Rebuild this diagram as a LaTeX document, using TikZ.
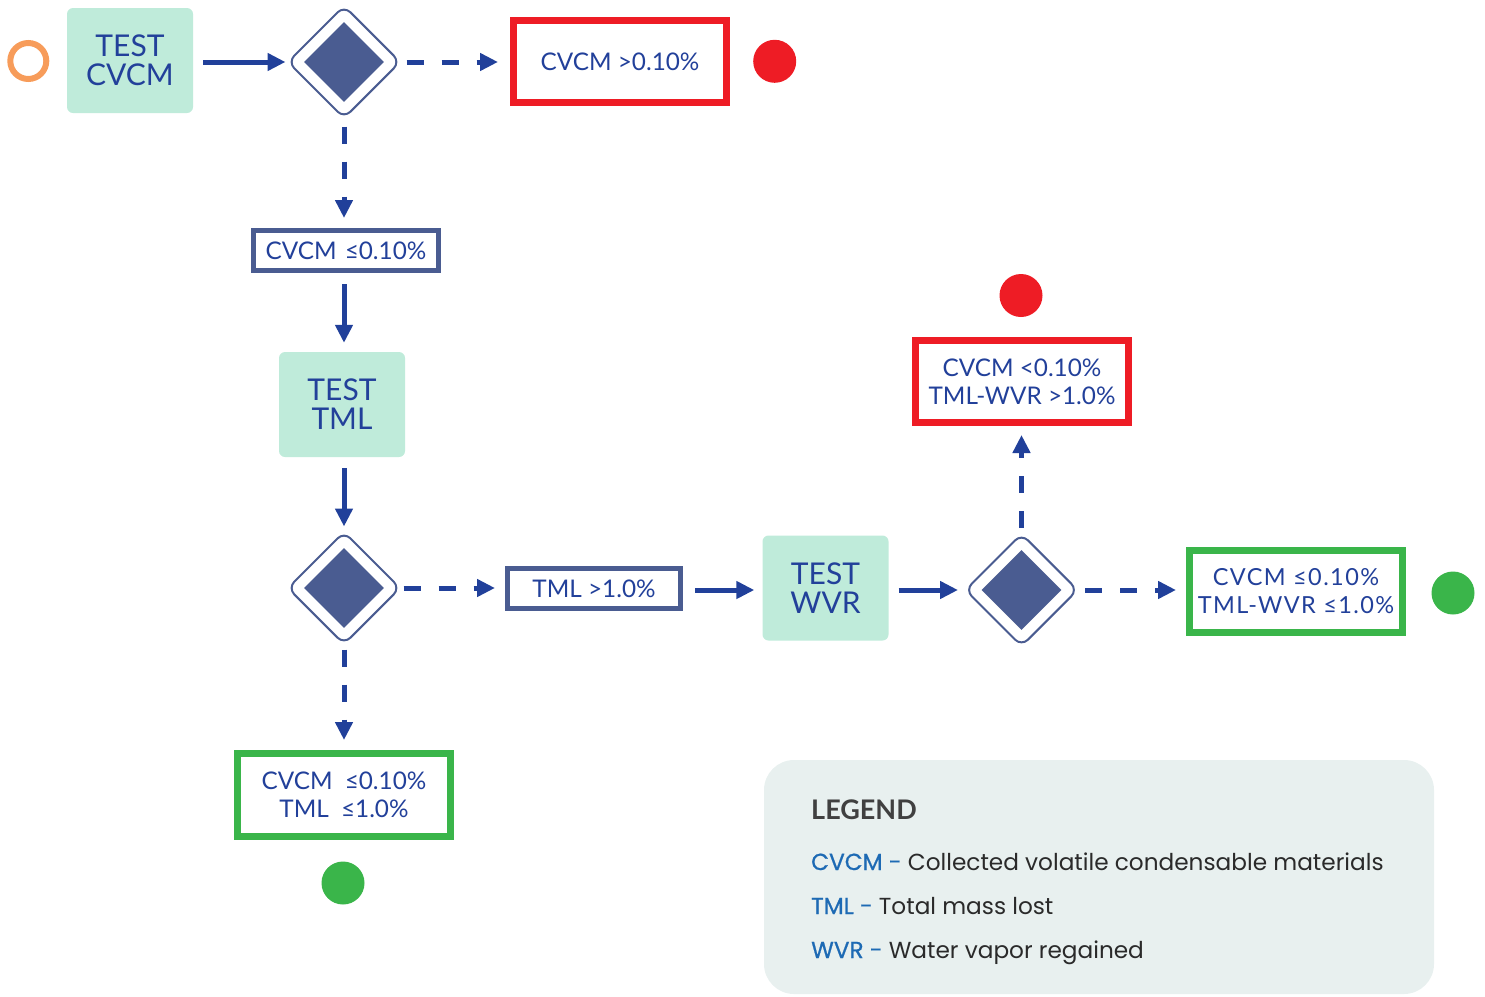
\documentclass[tikz,border=0pt]{standalone}
\usepackage{fontspec}
\setmainfont{Lato}
\newfontfamily\legfont{Poppins}
\usetikzlibrary{arrows.meta,shapes.geometric,calc}
\definecolor{ablue}{HTML}{21409A}
\definecolor{tblue}{HTML}{22409A}
\definecolor{slate}{HTML}{4A5C91}
\definecolor{mint}{HTML}{BFEBDA}
\definecolor{rred}{HTML}{EE1C25}
\definecolor{ggreen}{HTML}{3AB54A}
\definecolor{orng}{HTML}{F79C5A}
\definecolor{legbg}{HTML}{E8F0EF}
\definecolor{lblue}{HTML}{1D6AB4}
\definecolor{ldark}{HTML}{2A2A2A}
\definecolor{lhead}{HTML}{404040}
\tikzset{
  arr/.style={line width=5pt, draw=ablue, -{Triangle[length=18pt,width=17pt]}},
  darr/.style={arr, dash pattern=on 17pt off 18pt},
  testbox/.style={fill=mint, rounded corners=6pt, minimum width=126pt, minimum height=105pt,
    text=tblue, font=\fontsize{30}{29}\selectfont, align=center, inner sep=0pt},
  outbox/.style={draw=#1, line width=7pt, fill=white, minimum width=213pt, minimum height=82pt,
    text=tblue, font=\fontsize{24.3}{28}\selectfont, align=center, inner sep=0pt},
  slatebox/.style={draw=slate, line width=5pt, fill=white, minimum height=40pt,
    text=tblue, font=\fontsize{24.3}{28}\selectfont, align=center, inner sep=0pt},
  dia/.style={diamond, aspect=1, draw=slate, line width=2pt, fill=white, minimum width=113pt,
    minimum height=113pt, inner sep=0pt, rounded corners=9pt},
  innerdia/.style={diamond, aspect=1, fill=slate, minimum width=80pt, minimum height=80pt, inner sep=0pt},
  dot/.style={circle, fill=#1, minimum size=43pt, inner sep=0pt},
  legtext/.style={anchor=base west, font=\legfont\fontsize{23.2}{28}\selectfont, text=ldark, inner sep=0pt},
}
\newcommand{\legkeytext}[1]{\textcolor{lblue}{\addfontfeature{FakeBold=0.8}#1}}
\begin{document}
\begin{tikzpicture}[x=1pt,y=-1pt]
\useasboundingbox (0,0) rectangle (1485,996);
% start
\node[circle, draw=orng, line width=6pt, minimum size=36pt, inner sep=0pt] (start) at (28.3,61) {};
\node[testbox] (tcvcm) at (130,60.5) {TEST\\CVCM};
\node[dia] (d1) at (344,62) {};
\node[innerdia] (d1i) at (d1.center) {};
\node[outbox=rred] (r1) at (620,61.5) {CVCM >0.10\%};
\node[dot=rred] (r1dot) at (774.7,61.3) {};
\node[slatebox, minimum width=185pt] (s1) at (346,250.5) {CVCM\,\,≤0.10\%};
\node[testbox] (ttml) at (342,404.5) {TEST\\TML};
\node[dia] (d2) at (344,588) {};
\node[innerdia] (d2i) at (d2.center) {};
\node[slatebox, minimum width=173pt] (s2) at (594,588.5) {TML >1.0\%};
\node[testbox] (twvr) at (825.5,588) {TEST\\WVR};
\node[dia] (d3) at (1021.5,590) {};
\node[innerdia] (d3i) at (d3.center) {};
\node[outbox=rred] (r2) at (1022,381.5) {CVCM <0.10\%\\TML-WVR >1.0\%};
\node[dot=rred] (r2dot) at (1021,295.5) {};
\node[outbox=ggreen, font=\fontsize{23.5}{28}\selectfont\addfontfeature{LetterSpace=6}] (g1) at (1296,591.5) {CVCM ≤0.10\%\\TML-WVR ≤1.0\%};
\node[dot=ggreen] (g1dot) at (1453,593) {};
\node[outbox=ggreen, minimum height=83pt] (g2) at (344,795) {CVCM\,\,\,≤0.10\%\\TML\,\,\,≤1.0\%};
\node[dot=ggreen] (g2dot) at (343,883) {};
% connectors
\draw[arr, shorten <=10pt, shorten >=1pt] (tcvcm.east |- d1.west) -- (d1.west);
\draw[darr, shorten <=5pt, shorten >=12pt] (d1.east) -- (d1.east -| r1.west);
\draw[darr, shorten <=7pt, shorten >=10pt] (d1.south) -- (d1.south |- s1.north);
\draw[arr, shorten <=11pt, shorten >=9pt] (s1.south -| d1.south) -- (ttml.north -| d1.south);
\draw[arr, shorten <=11pt, shorten >=4pt] (ttml.south -| d2.north) -- (d2.north);
\draw[darr, shorten <=2pt, shorten >=10pt] (d2.east) -- (d2.east -| s2.west);
\draw[arr, shorten <=12pt, shorten >=8pt] (s2.east |- d3.west) -- (twvr.west |- d3.west);
\draw[arr, shorten <=10pt, shorten >=6pt] (twvr.east |- d3.west) -- (d3.west);
\draw[darr, shorten <=5pt, shorten >=9pt] (d3.north) -- (d3.north |- r2.south);
\draw[darr, shorten <=6pt, shorten >=10pt] (d3.east) -- (d3.east -| g1.west);
\draw[darr, shorten <=4pt, shorten >=10pt] (d2.south) -- (d2.south |- g2.north);
% legend
\node[fill=legbg, rounded corners=30pt, minimum width=670pt, minimum height=234pt, inner sep=0pt] (legend) at (1099,877) {};
\node[legtext, font=\fontsize{27}{30}\selectfont\bfseries, text=lhead] (lhd) at (811,819) {LEGEND};
\node[legtext] (l1) at (811,870) {\legkeytext{CVCM -} Collected volatile condensable materials};
\node[legtext] (l2) at (811,914) {\legkeytext{TML -} Total mass lost};
\node[legtext] (l3) at (811,958) {\legkeytext{WVR -} Water vapor regained};
\end{tikzpicture}
\end{document}
